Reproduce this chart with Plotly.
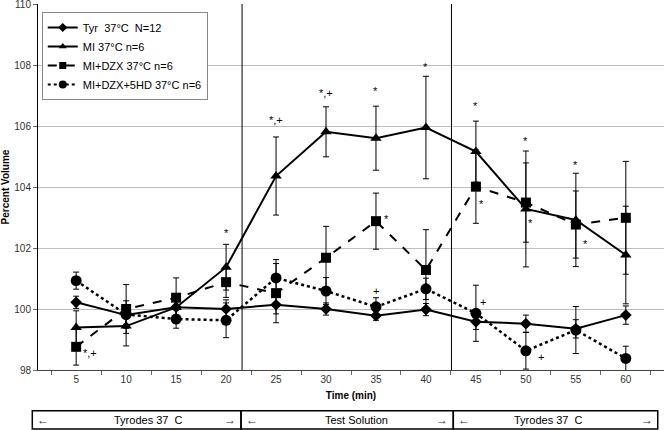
import plotly.graph_objects as go

# ---- data ----
times = ["5", "10", "15", "20", "25", "30", "35", "40", "45", "50", "55", "60"]

tyr = [100.22, 99.8, 100.06, 100.0, 100.14, 100.0, 99.78, 99.98, 99.58, 99.52, 99.35, 99.8]
tyr_err = [0.2, 0.3, 0.25, 0.3, 0.3, 0.2, 0.15, 0.2, 0.25, 0.28, 0.3, 0.3]

mi = [99.39, 99.44, 100.05, 101.37, 104.36, 105.81, 105.6, 105.95, 105.16, 103.28, 102.92, 101.77]
mi_err = [0.55, 0.65, 0.35, 0.75, 1.28, 0.82, 1.05, 1.68, 1.0, 1.9, 1.53, 1.6]

dzx = [98.76, 100.0, 100.37, 100.88, 100.52, 101.68, 102.88, 101.28, 104.01, 103.49, 102.77, 102.99]
dzx_err = [0.6, 0.8, 0.65, 0.5, 0.97, 1.03, 0.92, 1.32, 1.2, 1.3, 1.1, 1.85]

hd = [100.93, 99.82, 99.67, 99.63, 101.02, 100.59, 100.07, 100.66, 99.86, 98.63, 99.31, 98.38]
hd_err = [0.28, 0.45, 0.3, 0.57, 0.6, 0.44, 0.3, 0.35, 0.92, 0.6, 0.77, 0.4]

names = ["Tyr\u00a0 37°C\u00a0 N=12", "MI 37°C n=6", "MI+DZX 37°C n=6", "MI+DZX+5HD 37°C n=6"]

# significance marks: (time category, value level, text)
sig_time = ["5", "20", "25", "30", "35", "40", "35", "45", "45", "50", "50", "55", "55", "45", "50", "35"]
sig_val = [98.56, 102.49, 106.2, 107.08, 107.15, 107.93, 102.95, 106.66, 103.44, 105.51,
           102.82, 104.72, 102.13, 100.23, 98.43, 100.59]
sig_txt = ["*,+", "*", "*,+", "*,+", "*", "*", "*", "*", "*", "*", "*", "*", "*", "+", "+", "+"]
sig_shift = [14, 0, 0, 0, 0, 0, 11, 0, 6, 0, 5, 0, 10, 7, 15, 0]

periods = ["Tyrodes 37\u00a0 C", "Test Solution", "Tyrodes 37\u00a0 C"]

FONT = "Arial, Liberation Sans, sans-serif"

fig = go.Figure()

styles = [
    dict(symbol="diamond", size=9, lsize=7, dash="solid", width=2),
    dict(symbol="triangle-up", size=10, lsize=7, dash="solid", width=2),
    dict(symbol="square", size=10, lsize=7, dash="dash", width=2),
    dict(symbol="circle", size=11, lsize=8, dash="dot", width=2.5),
]
series = [(tyr, tyr_err), (mi, mi_err), (dzx, dzx_err), (hd, hd_err)]
for (vals, errs), nm, st in zip(series, names, styles):
    fig.add_trace(go.Scatter(
        x=times, y=vals, name=nm, mode="lines+markers", showlegend=False,
        line=dict(color="black", width=st["width"], dash=st["dash"]),
        marker=dict(symbol=st["symbol"], size=st["size"], color="black"),
        error_y=dict(type="data", array=errs, visible=True, color="black",
                     thickness=1, width=3),
    ))
# legend entries (smaller symbols, as in the original legend)
for nm, st in zip(names, styles):
    fig.add_trace(go.Scatter(
        x=[None], y=[None], name=nm, mode="lines+markers",
        line=dict(color="black", width=2, dash=st["dash"]),
        marker=dict(symbol=st["symbol"], size=st["lsize"], color="black"),
    ))

idx = {t: i for i, t in enumerate(times)}
for t, v, s, sh in zip(sig_time, sig_val, sig_txt, sig_shift):
    fig.add_annotation(x=idx[t], y=v, text=s, showarrow=False, xshift=sh,
                       font=dict(size=11, color="black", family=FONT))

# period dividers
for xp in [0.326, 0.6605]:
    fig.add_shape(type="line", xref="paper", yref="paper", x0=xp, x1=xp, y0=0, y1=1,
                  line=dict(color="black", width=1))

# bottom band
edges = [-0.0091, 0.3243, 0.6634, 0.990]
ytop, ybot = -0.111, -0.161
ymid = (ytop + ybot) / 2
for i in range(3):
    fig.add_shape(type="rect", xref="paper", yref="paper", x0=edges[i], x1=edges[i + 1],
                  y0=ybot, y1=ytop, line=dict(color="black", width=1.5))
txt_x = [0.176, 0.508, 0.816]
for i, p in enumerate(periods):
    fig.add_annotation(xref="paper", yref="paper", x=txt_x[i], y=ymid,
                       xanchor="center", yanchor="middle",
                       text=p, showarrow=False, font=dict(size=11, color="black", family=FONT))
    fig.add_annotation(xref="paper", yref="paper", x=edges[i] + 0.005, y=ymid,
                       xanchor="left", yanchor="middle", text="←", showarrow=False,
                       font=dict(size=12, color="#333333", family=FONT))
    fig.add_annotation(xref="paper", yref="paper", x=edges[i + 1] - 0.005, y=ymid,
                       xanchor="right", yanchor="middle", text="→", showarrow=False,
                       font=dict(size=12, color="#333333", family=FONT))

fig.update_layout(
    width=666, height=430,
    margin=dict(l=38, r=2, t=4, b=60),
    paper_bgcolor="white", plot_bgcolor="white",
    font=dict(family=FONT, color="black", size=10),
    showlegend=True,
    legend=dict(x=0.006, y=0.978, xanchor="left", yanchor="top",
                bordercolor="#888888", borderwidth=1, bgcolor="white",
                font=dict(size=11, family=FONT), tracegroupgap=0),
    xaxis=dict(type="category", showgrid=False, showline=True, linecolor="#444444",
               linewidth=1, ticks="outside", ticklen=4, tickcolor="#666666",
               tickson="boundaries", tickfont=dict(size=10, color="#333333"), automargin=False,
               title=dict(text="<b>Time (min)</b>", font=dict(size=10), standoff=7)),
    yaxis=dict(range=[98, 110], dtick=2, showgrid=True, gridcolor="#bdbdbd",
               gridwidth=1, showline=True, linecolor="black", linewidth=1,
               ticks="outside", ticklen=4, tickcolor="#666666", zeroline=False,
               tickfont=dict(size=10, color="#333333"), automargin=False,
               ticklabeloverflow="allow",
               title=dict(text="<b>Percent Volume</b>", font=dict(size=10), standoff=9)),
)

fig.write_html("out.html", config={"displayModeBar": False},
               post_script="document.body.style.margin='0';")
